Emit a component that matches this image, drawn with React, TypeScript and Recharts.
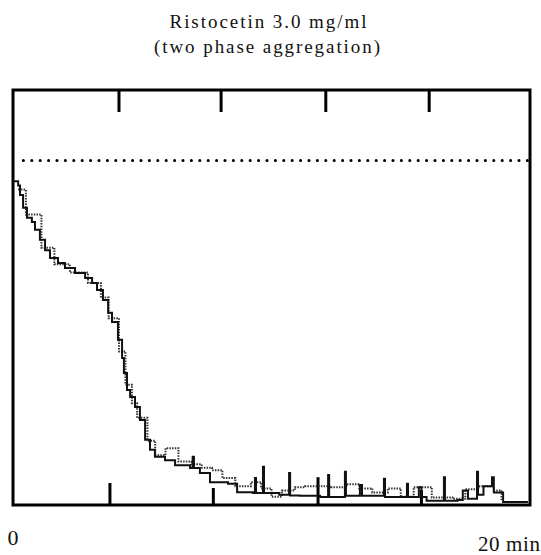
import React from "react";
import {
  LineChart,
  Line,
  XAxis,
  YAxis,
  ReferenceLine,
  ReferenceArea
} from "recharts";

// main trace: [minutes, % of scale]
const traceTime = [
  0, 0.1, 0.2, 0.27, 0.39, 0.54, 0.73, 0.85, 1.04, 1.24, 1.43, 1.74, 2.01, 2.4, 2.79, 3.06,
  3.25, 3.48, 3.68, 3.83, 4.06, 4.22, 4.29, 4.41, 4.53, 4.72, 4.91, 5.11, 5.3, 5.49, 5.88,
  6.27, 6.85, 6.95, 7.0, 7.23, 7.62, 8.32, 8.67, 9.28, 9.36, 9.4, 9.67, 9.71, 10.3, 10.68,
  10.72, 11.1, 11.88, 12.19, 12.23, 12.84, 12.88, 13.04, 13.42, 13.5, 14.35, 14.39, 15.24,
  15.28, 15.7, 15.8, 16.0, 16.67, 16.71, 17.2, 17.4, 17.6, 17.95, 17.99, 18.2, 18.53, 18.6,
  18.96, 19.92
];
const traceValue = [
  78, 78, 77, 74.7, 71.6, 69.2, 68.2, 66.3, 63.9, 61.4, 59.5, 58.3, 57.1, 55.9, 54.7, 53.5,
  51.8, 49.4, 46.3, 44.1, 39.8, 35.4, 31.8, 27.7, 26.0, 23.6, 20.5, 15.7, 13.3, 11.6, 10.8,
  9.6, 8.9, 11.6, 8.9, 7.7, 5.5, 5.1, 3.1, 2.9, 6.5, 2.9, 9.2, 2.9, 2.5, 7.7,
  2.3, 2.2, 1.9, 7.2, 1.9, 8.0, 2.2, 2.2, 4.8, 2.2, 6.3, 1.9, 5.1,
  1.9, 4.3, 1.9, 1.0, 6.7, 1.0, 1.2, 3.5, 1.5, 8.0, 2.5, 4.5, 6.7, 3.0,
  0.7, 0.7
];

// dotted fuzz around the trace
const fuzzTime = [
  0.2, 0.5, 1.1, 1.6, 2.2, 2.9, 3.4, 3.7, 4.1, 4.35, 4.6, 4.8, 5.2, 5.5, 5.9, 6.4, 6.9, 7.3,
  7.7, 8.1, 8.6, 9.2, 9.6, 10.0, 10.4, 10.9, 11.3, 12.3, 12.9, 13.4, 13.9, 14.5, 15.0, 15.5,
  16.2, 17.0, 17.5, 18.0, 18.6, 18.9
];
const fuzzValue = [
  76, 70, 62, 58, 56, 53.5, 50, 45, 37, 29, 24.5, 21, 15.5, 12, 13.7, 10.5, 9.8, 9.0,
  8.4, 6.5, 4.5, 5.5, 4.0, 2.0, 3.5, 4.3, 4.5, 4.3, 5.0, 4.0, 3.0, 4.0, 2.0, 4.3,
  1.8, 1.5, 3.8, 4.5, 3.5, 1.2
];

const topTicks = [4.1, 8.05, 12.1, 16.1];
const bottomTicks = [3.75, 7.75, 11.8, 15.8];
const bottomTickHeights = [5.3, 4.1, 6.7, 3.6];
const baselineLevel = 83;

const traceData = traceTime.map((t, i) => ({ t, trace: traceValue[i] }));
const fuzzData = fuzzTime.map((t, i) => ({ t, fuzz: fuzzValue[i] }));

const serif = "Liberation Serif, DejaVu Serif, serif";

export default function App() {
  return (
    <div style={{ position: "absolute", left: 0, top: 0, width: 541, height: 555, background: "#fff" }}>
      <LineChart
        width={541}
        height={555}
        margin={{ top: 90, right: 11, bottom: 50, left: 13 }}
      >
        <XAxis type="number" dataKey="t" domain={[0, 20]} hide allowDuplicatedCategory={false} />
        <YAxis type="number" domain={[0, 100]} hide />
        <ReferenceArea
          x1={0}
          x2={20}
          y1={0}
          y2={100}
          fill="none"
          stroke="#000"
          strokeWidth={3}
          ifOverflow="visible"
        />
        <ReferenceLine
          segment={[{ x: 0.4, y: baselineLevel }, { x: 20, y: baselineLevel }]}
          stroke="#000"
          strokeWidth={3}
          strokeDasharray="0.1 8.3"
          strokeLinecap="round"
        />
        {topTicks.map((t) => (
          <ReferenceLine
            key={"top" + t}
            segment={[{ x: t, y: 100 }, { x: t, y: 94.7 }]}
            stroke="#000"
            strokeWidth={3}
          />
        ))}
        {bottomTicks.map((t, i) => (
          <ReferenceLine
            key={"bot" + t}
            segment={[{ x: t, y: 0 }, { x: t, y: bottomTickHeights[i] }]}
            stroke="#000"
            strokeWidth={3}
          />
        ))}
        <Line
          data={fuzzData}
          dataKey="fuzz"
          type="stepAfter"
          stroke="#333"
          strokeWidth={2}
          strokeDasharray="1.5 1.2"
          dot={false}
          isAnimationActive={false}
        />
        <Line
          data={traceData}
          dataKey="trace"
          type="stepAfter"
          stroke="#111"
          strokeWidth={2}
          dot={false}
          isAnimationActive={false}
        />
      </LineChart>
      <svg
        width={541}
        height={555}
        style={{ position: "absolute", left: 0, top: 0, pointerEvents: "none" }}
      >
        <text x={268} y={28} textAnchor="middle" fontFamily={serif} fontSize={19} textLength={197} lengthAdjust="spacing" fill="#111">
          Ristocetin 3.0 mg/ml
        </text>
        <text x={267} y={53} textAnchor="middle" fontFamily={serif} fontSize={19} textLength={226} lengthAdjust="spacing" fill="#111">
          (two phase aggregation)
        </text>
        <text x={13} y={545} textAnchor="middle" fontFamily={serif} fontSize={22} fill="#111">
          0
        </text>
        <text x={478} y={551} fontFamily={serif} fontSize={21} textLength={62} lengthAdjust="spacing" fill="#111">
          20 min
        </text>
      </svg>
    </div>
  );
}
